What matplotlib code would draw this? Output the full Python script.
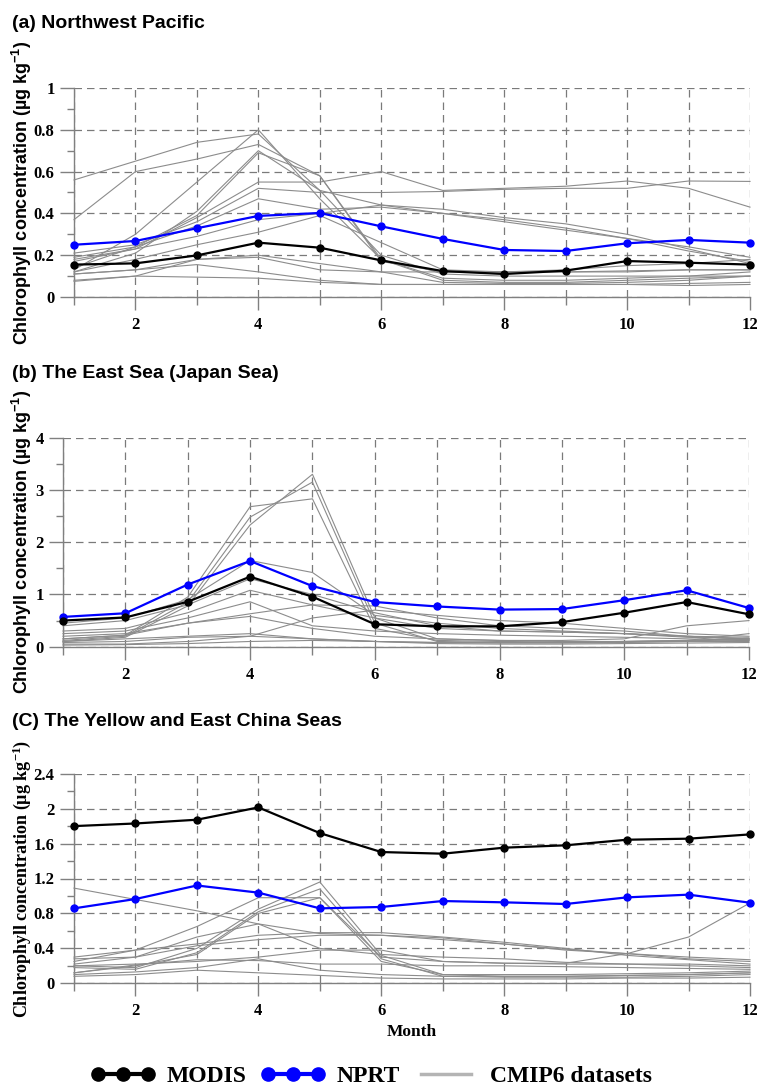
import matplotlib
matplotlib.use("Agg")
import matplotlib.pyplot as plt
from matplotlib.lines import Line2D
from matplotlib.legend_handler import HandlerLine2D
from matplotlib.ticker import MultipleLocator, FuncFormatter

months = list(range(1, 13))

# (a) Northwest Pacific
modis_a = [0.155, 0.161, 0.199, 0.26, 0.236, 0.175, 0.124, 0.11, 0.126, 0.172, 0.164, 0.155]
nprt_a = [0.25, 0.268, 0.329, 0.388, 0.402, 0.338, 0.278, 0.225, 0.22, 0.257, 0.273, 0.26]
cmip_a = [
    [0.56, 0.65, 0.74, 0.78, 0.51, 0.44, 0.40, 0.36, 0.32, 0.28, 0.24, 0.19],
    [0.37, 0.60, 0.66, 0.73, 0.58, 0.18, 0.09, 0.08, 0.08, 0.09, 0.10, 0.12],
    [0.13, 0.30, 0.55, 0.80, 0.47, 0.18, 0.08, 0.07, 0.07, 0.08, 0.09, 0.10],
    [0.12, 0.21, 0.41, 0.70, 0.51, 0.20, 0.11, 0.10, 0.10, 0.10, 0.10, 0.10],
    [0.14, 0.24, 0.39, 0.69, 0.58, 0.17, 0.12, 0.12, 0.13, 0.15, 0.16, 0.18],
    [0.18, 0.23, 0.38, 0.55, 0.55, 0.60, 0.51, 0.52, 0.53, 0.555, 0.52, 0.43],
    [0.21, 0.25, 0.36, 0.52, 0.50, 0.50, 0.505, 0.515, 0.52, 0.52, 0.555, 0.553],
    [0.19, 0.24, 0.34, 0.47, 0.42, 0.43, 0.40, 0.37, 0.33, 0.28, 0.22, 0.17],
    [0.17, 0.23, 0.29, 0.37, 0.40, 0.44, 0.42, 0.38, 0.35, 0.30, 0.23, 0.16],
    [0.12, 0.18, 0.25, 0.31, 0.39, 0.26, 0.13, 0.12, 0.12, 0.12, 0.13, 0.13],
    [0.11, 0.13, 0.18, 0.19, 0.13, 0.12, 0.07, 0.065, 0.065, 0.07, 0.08, 0.10],
    [0.11, 0.13, 0.155, 0.12, 0.08, 0.06, 0.06, 0.06, 0.06, 0.06, 0.065, 0.07],
    [0.08, 0.10, 0.095, 0.09, 0.07, 0.06, 0.06, 0.06, 0.06, 0.06, 0.055, 0.06],
    [0.075, 0.10, 0.18, 0.20, 0.16, 0.12, 0.12, 0.12, 0.12, 0.125, 0.13, 0.13],
]

# (b) The East Sea (Japan Sea)
modis_b = [0.50, 0.56, 0.86, 1.34, 0.957, 0.43, 0.39, 0.39, 0.47, 0.65, 0.855, 0.62]
nprt_b = [0.57, 0.64, 1.19, 1.64, 1.16, 0.855, 0.77, 0.71, 0.72, 0.89, 1.08, 0.74]
cmip_b = [
    [0.15, 0.22, 0.95, 2.68, 2.83, 0.35, 0.12, 0.10, 0.09, 0.10, 0.12, 0.15],
    [0.12, 0.20, 0.85, 2.48, 3.15, 0.45, 0.10, 0.08, 0.08, 0.09, 0.10, 0.12],
    [0.10, 0.18, 0.78, 2.33, 3.30, 0.55, 0.15, 0.12, 0.10, 0.10, 0.11, 0.14],
    [0.45, 0.55, 0.90, 1.65, 1.42, 0.60, 0.45, 0.35, 0.30, 0.25, 0.20, 0.15],
    [0.40, 0.50, 0.80, 1.30, 1.00, 0.65, 0.40, 0.30, 0.28, 0.25, 0.18, 0.15],
    [0.30, 0.35, 0.65, 1.08, 0.80, 0.55, 0.35, 0.30, 0.28, 0.25, 0.20, 0.18],
    [0.25, 0.30, 0.55, 0.86, 0.40, 0.30, 0.25, 0.22, 0.20, 0.18, 0.15, 0.12],
    [0.20, 0.25, 0.45, 0.63, 0.80, 0.78, 0.55, 0.40, 0.35, 0.30, 0.20, 0.15],
    [0.15, 0.22, 0.45, 0.58, 0.35, 0.20, 0.15, 0.12, 0.12, 0.15, 0.40, 0.50],
    [0.05, 0.05, 0.10, 0.20, 0.55, 0.70, 0.60, 0.50, 0.45, 0.35, 0.25, 0.20],
    [0.10, 0.15, 0.20, 0.25, 0.15, 0.10, 0.08, 0.08, 0.08, 0.10, 0.12, 0.25],
    [0.08, 0.10, 0.18, 0.20, 0.15, 0.10, 0.08, 0.07, 0.07, 0.08, 0.10, 0.10],
    [0.03, 0.04, 0.06, 0.10, 0.12, 0.10, 0.06, 0.05, 0.05, 0.06, 0.07, 0.08],
]

# (C) The Yellow and East China Seas
modis_c = [1.80, 1.83, 1.873, 2.014, 1.72, 1.503, 1.484, 1.553, 1.58, 1.644, 1.656, 1.705]
nprt_c = [0.858, 0.965, 1.12, 1.038, 0.858, 0.874, 0.942, 0.927, 0.908, 0.984, 1.015, 0.923]
cmip_c = [
    [1.09, 0.96, 0.83, 0.68, 0.40, 0.33, 0.30, 0.28, 0.24, 0.22, 0.20, 0.18],
    [0.30, 0.38, 0.65, 0.98, 0.98, 0.30, 0.25, 0.23, 0.22, 0.22, 0.22, 0.20],
    [0.20, 0.18, 0.40, 0.85, 1.16, 0.32, 0.10, 0.08, 0.08, 0.09, 0.10, 0.12],
    [0.18, 0.16, 0.35, 0.82, 1.08, 0.28, 0.08, 0.07, 0.07, 0.07, 0.08, 0.10],
    [0.12, 0.20, 0.33, 0.80, 0.98, 0.25, 0.10, 0.10, 0.10, 0.11, 0.12, 0.14],
    [0.28, 0.30, 0.53, 0.68, 0.57, 0.55, 0.50, 0.45, 0.39, 0.34, 0.28, 0.25],
    [0.25, 0.38, 0.45, 0.55, 0.58, 0.58, 0.53, 0.47, 0.40, 0.32, 0.27, 0.22],
    [0.22, 0.30, 0.43, 0.50, 0.55, 0.55, 0.52, 0.45, 0.38, 0.34, 0.30, 0.27],
    [0.20, 0.22, 0.25, 0.30, 0.38, 0.38, 0.25, 0.23, 0.23, 0.34, 0.53, 0.92],
    [0.12, 0.21, 0.27, 0.26, 0.22, 0.22, 0.20, 0.20, 0.19, 0.18, 0.17, 0.16],
    [0.10, 0.13, 0.18, 0.28, 0.15, 0.10, 0.08, 0.08, 0.08, 0.09, 0.10, 0.12],
    [0.08, 0.10, 0.15, 0.12, 0.09, 0.06, 0.05, 0.05, 0.05, 0.06, 0.06, 0.07],
]

titles = ["(a) Northwest Pacific", "(b) The East Sea (Japan Sea)",
          "(C) The Yellow and East China Seas"]
ylab = "Chlorophyll concentration (µg kg$^{-1}$)"

plt.rcParams["font.family"] = "Liberation Serif"
plt.rcParams["font.weight"] = "bold"
plt.rcParams["mathtext.default"] = "regular"

W, H = 759, 1086
fig = plt.figure(figsize=(W / 100, H / 100), dpi=100)

# axes boxes in pixels: left, right, top, bottom
boxes = [(74, 750, 88, 297), (63, 749, 437.7, 646.7), (74, 750, 773.7, 983.3)]
ylims = [(1.0, 0.2, 0.1), (4.0, 1.0, 0.5), (2.4, 0.4, 0.2)]
title_y = [23, 373, 722]
data = [(modis_a, nprt_a, cmip_a), (modis_b, nprt_b, cmip_b), (modis_c, nprt_c, cmip_c)]
grey = "#808080"

for i in range(3):
    l, r, t, b = boxes[i]
    ax = fig.add_axes([l / W, 1 - b / H, (r - l) / W, (b - t) / H])
    modis, nprt, cmip = data[i]
    for s in cmip:
        ax.plot(months, s, color="#8c8c8c", lw=0.8, zorder=3, clip_on=False)
    ax.plot(months, nprt, color="#0000ff", lw=1.6, marker="o", ms=5, zorder=4, clip_on=False)
    ax.plot(months, modis, color="black", lw=1.6, marker="o", ms=5, zorder=5, clip_on=False)

    top, major, minor = ylims[i]
    ax.set_xlim(1, 12)
    ax.set_ylim(0, top)
    ax.set_xticks([2, 4, 6, 8, 10, 12])
    ax.xaxis.set_minor_locator(MultipleLocator(1))
    ax.yaxis.set_major_locator(MultipleLocator(major))
    ax.yaxis.set_minor_locator(MultipleLocator(minor))
    ax.yaxis.set_major_formatter(FuncFormatter(lambda v, p: "%g" % round(v, 2)))

    for sp in ["top", "right"]:
        ax.spines[sp].set_visible(False)
    for sp in ["left", "bottom"]:
        ax.spines[sp].set_color(grey)
        ax.spines[sp].set_linewidth(1.0)

    ax.tick_params(axis="x", which="major", length=9.5, width=1, color=grey, pad=5, labelsize=12)
    ax.tick_params(axis="x", which="minor", length=5.8, width=1, color=grey)
    ax.tick_params(axis="y", which="major", length=10, width=1, color=grey, pad=4, labelsize=12)
    ax.tick_params(axis="y", which="minor", length=5, width=1, color=grey)
    ax.grid(axis="x", which="both", color="#7a7a7a", lw=0.9, linestyle=(0, (6, 4)))
    ax.grid(axis="y", which="major", color="#7a7a7a", lw=0.9, linestyle=(0, (6, 4)))
    ax.set_axisbelow(True)

    fig.text(12 / W, 1 - title_y[i] / H, titles[i], family="Liberation Sans",
             weight="bold", fontsize=14, ha="left", va="center")
    fam = "Liberation Serif" if i == 2 else "Liberation Sans"
    fig.text(22 / W, 1 - (t + b) / 2 / H, ylab, family=fam, weight="bold",
             fontsize=13, rotation=90, ha="center", va="center")

fig.text(412 / W, 1 - 1032 / H, "Month", fontsize=12.5, weight="bold", ha="center", va="center")

handles = [
    Line2D([], [], color="black", lw=3, marker="o", ms=9.5),
    Line2D([], [], color="#0000ff", lw=3, marker="o", ms=9.5),
    Line2D([], [], color="#b4b4b4", lw=2.5),
]
fig.legend(handles, ["MODIS", "NPRT", "CMIP6 datasets"], loc="center",
           bbox_to_anchor=(375 / W, 1 - 1076 / H), ncol=3, frameon=False,
           numpoints=3, handlelength=2.1, handletextpad=0.8, columnspacing=0.9,
           prop=dict(family="Liberation Serif", weight="bold", size=17),
           handler_map={Line2D: HandlerLine2D(marker_pad=0)})

fig.savefig("out.png", dpi=100)
